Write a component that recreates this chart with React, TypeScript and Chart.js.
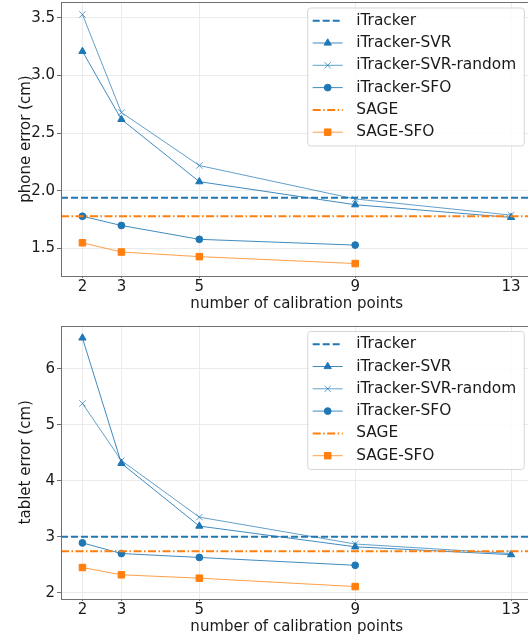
import React, { useEffect, useRef } from 'react';
import { Chart, registerables } from 'chart.js';
import { drawPoint } from 'chart.js/helpers';

Chart.register(...registerables);

// ---------- data ----------
const CAL_POINTS = [2, 3, 5, 9, 13];
const SFO_POINTS = [2, 3, 5, 9];
const X_MIN = 1.45;
const X_MAX = 13.55;

const PHONE_ITRACKER = 1.94;
const PHONE_SAGE = 1.78;
const PHONE_SVR = [3.21, 2.62, 2.08, 1.88, 1.77];
const PHONE_SVR_RANDOM = [3.53, 2.68, 2.22, 1.93, 1.79];
const PHONE_SFO = [1.78, 1.7, 1.58, 1.53];
const PHONE_SAGE_SFO = [1.55, 1.47, 1.43, 1.37];
const PHONE_Y_TICKS = [1.5, 2.0, 2.5, 3.0, 3.5];

const TABLET_ITRACKER = 3.0;
const TABLET_SAGE = 2.74;
const TABLET_SVR = [6.55, 4.31, 3.19, 2.82, 2.68];
const TABLET_SVR_RANDOM = [5.38, 4.36, 3.35, 2.87, 2.7];
const TABLET_SFO = [2.89, 2.7, 2.63, 2.49];
const TABLET_SAGE_SFO = [2.45, 2.32, 2.26, 2.11];
const TABLET_Y_TICKS = [2, 3, 4, 5, 6];

const LABELS = ['iTracker', 'iTracker-SVR', 'iTracker-SVR-random', 'iTracker-SFO', 'SAGE', 'SAGE-SFO'];

// ---------- style ----------
const BLUE = '#1f77b4';
const BLUE_THIN = 'rgba(31,119,180,0.85)';
const BLUE_LIGHT = 'rgba(31,119,180,0.7)';
const ORANGE = '#ff7f0e';
const ORANGE_THIN = 'rgba(255,127,14,0.75)';
const GRID = '#ebebeb';
const SPINE = '#707070';
const TEXT = '#1a1a1a';
const FONT = { family: '"DejaVu Sans", sans-serif', size: 15 };
const LEGEND_FONT_SIZE = 15.4;
const CANVAS_W = 545;
const AREA_RIGHT = 532.5;

Chart.defaults.font.family = FONT.family;

function yRange(values: number[]) {
  const lo = Math.min(...values);
  const hi = Math.max(...values);
  const m = (hi - lo) * 0.05;
  return [lo - m, hi + m];
}

function makeDatasets(itr: number, sage: number, svr: number[], svrR: number[], sfo: number[], sageSfo: number[]) {
  const hline = (v: number) => [{ x: X_MIN, y: v }, { x: X_MAX, y: v }];
  const pts = (xs: number[], ys: number[]) => xs.map((x, i) => ({ x, y: ys[i] }));
  const list: any[] = [
    { data: hline(itr), borderColor: BLUE, borderWidth: 2, borderDash: [7, 3], pointRadius: 0, pointStyle: false },
    { data: pts(CAL_POINTS, svr), borderColor: BLUE_THIN, borderWidth: 1, pointStyle: 'triangle', pointRadius: 4.2, pointBackgroundColor: BLUE, pointBorderColor: BLUE, pointBorderWidth: 1 },
    { data: pts(CAL_POINTS, svrR), borderColor: BLUE_LIGHT, borderWidth: 1, pointStyle: 'crossRot', pointRadius: 4.5, pointBackgroundColor: BLUE_LIGHT, pointBorderColor: BLUE_LIGHT, pointBorderWidth: 1 },
    { data: pts(SFO_POINTS, sfo), borderColor: BLUE_THIN, borderWidth: 1, pointStyle: 'circle', pointRadius: 3.4, pointBackgroundColor: BLUE, pointBorderColor: BLUE, pointBorderWidth: 1 },
    { data: hline(sage), borderColor: ORANGE, borderWidth: 2, borderDash: [8, 2.5, 1.5, 2.5], pointRadius: 0, pointStyle: false },
    { data: pts(SFO_POINTS, sageSfo), borderColor: ORANGE_THIN, borderWidth: 1, pointStyle: 'rect', pointRadius: 4.6, pointBackgroundColor: ORANGE, pointBorderColor: ORANGE, pointBorderWidth: 1 },
  ];
  return list.map((d, i) => ({
    ...d,
    label: LABELS[i],
    order: 5 - i,
    showLine: true,
    fill: false,
    tension: 0,
    backgroundColor: d.borderColor,
    pointHoverRadius: d.pointRadius,
  }));
}

const framePlugin = {
  id: 'frameAndLegend',
  afterDraw(chart: any) {
    const { ctx, chartArea: a } = chart;
    ctx.save();
    // spines
    ctx.strokeStyle = SPINE;
    ctx.lineWidth = 1;
    ctx.setLineDash([]);
    const l = Math.round(a.left) + 0.5;
    const t = Math.round(a.top) + 0.5;
    const r = Math.round(a.right) + 0.5;
    const b = Math.round(a.bottom) + 0.5;
    ctx.strokeRect(l, t, r - l, b - t);

    // legend
    const bx = a.right - 224.8;
    const by = a.top + 6;
    const bw = 216.6;
    const bh = 138;
    ctx.beginPath();
    const rad = 3;
    ctx.moveTo(bx + rad, by);
    ctx.lineTo(bx + bw - rad, by);
    ctx.quadraticCurveTo(bx + bw, by, bx + bw, by + rad);
    ctx.lineTo(bx + bw, by + bh - rad);
    ctx.quadraticCurveTo(bx + bw, by + bh, bx + bw - rad, by + bh);
    ctx.lineTo(bx + rad, by + bh);
    ctx.quadraticCurveTo(bx, by + bh, bx, by + bh - rad);
    ctx.lineTo(bx, by + rad);
    ctx.quadraticCurveTo(bx, by, bx + rad, by);
    ctx.closePath();
    ctx.fillStyle = 'rgba(255,255,255,0.85)';
    ctx.fill();
    ctx.strokeStyle = '#d6d6d6';
    ctx.stroke();

    chart.data.datasets.forEach((ds: any, i: number) => {
      const y = by + 12.7 + i * 22.3;
      ctx.setLineDash(ds.borderDash || []);
      ctx.strokeStyle = ds.borderColor;
      ctx.lineWidth = ds.borderWidth;
      ctx.beginPath();
      ctx.moveTo(bx + 5, y);
      ctx.lineTo(bx + 35, y);
      ctx.stroke();
      ctx.setLineDash([]);
      if (ds.pointStyle && ds.pointRadius > 0) {
        ctx.fillStyle = ds.pointBackgroundColor;
        ctx.strokeStyle = ds.pointBorderColor;
        ctx.lineWidth = ds.pointBorderWidth;
        drawPoint(ctx, { pointStyle: ds.pointStyle, radius: ds.pointRadius, borderWidth: ds.pointBorderWidth, rotation: 0 } as any, bx + 20, y);
      }
      ctx.fillStyle = TEXT;
      ctx.font = `${LEGEND_FONT_SIZE}px ${FONT.family}`;
      ctx.textBaseline = 'middle';
      ctx.textAlign = 'left';
      ctx.fillText(ds.label, bx + 48.5, y);
    });
    ctx.restore();
  },
};

function buildConfig(datasets: any[], yTicks: number[], range: number[], yTitle: string, areaTop: number, decimals: number): any {
  return {
    type: 'line',
    data: { datasets },
    plugins: [framePlugin],
    options: {
      responsive: false,
      animation: false,
      devicePixelRatio: 1,
      events: [],
      layout: { autoPadding: false, padding: { left: 0, right: CANVAS_W - AREA_RIGHT, top: areaTop, bottom: 0 } },
      plugins: { legend: { display: false }, tooltip: { enabled: false } },
      scales: {
        x: {
          type: 'linear',
          min: X_MIN,
          max: X_MAX,
          afterBuildTicks: (s: any) => { s.ticks = CAL_POINTS.map((v) => ({ value: v })); },
          afterFit: (s: any) => { s.height = 39; s.paddingLeft = 0; s.paddingRight = 0; },
          grid: { color: GRID, lineWidth: 1, drawTicks: true, tickLength: 2, tickColor: SPINE },
          border: { display: false },
          ticks: { font: FONT, color: TEXT, padding: 0.5, maxRotation: 0, autoSkip: false, callback: (v: any) => String(v) },
          title: { display: true, text: 'number of calibration points', font: FONT, color: TEXT, padding: { top: 0, bottom: 2 } },
        },
        y: {
          type: 'linear',
          min: range[0],
          max: range[1],
          afterBuildTicks: (s: any) => { s.ticks = yTicks.map((v) => ({ value: v })); },
          afterFit: (s: any) => { s.width = 61; s.paddingTop = 0; s.paddingBottom = 0; },
          grid: { color: GRID, lineWidth: 1, drawTicks: true, tickLength: 4, tickColor: SPINE },
          border: { display: false },
          ticks: { font: FONT, color: TEXT, padding: 2, callback: (v: any) => Number(v).toFixed(decimals) },
          title: { display: true, text: yTitle, font: FONT, color: TEXT, padding: { top: 17, bottom: 0 } },
        },
      },
    },
  };
}

function ChartCanvas({ config, top, height }: { config: () => any; top: number; height: number }) {
  const ref = useRef<HTMLCanvasElement | null>(null);
  useEffect(() => {
    if (!ref.current) return;
    const chart = new Chart(ref.current, config());
    return () => chart.destroy();
  }, []);
  return (
    <canvas
      ref={ref}
      width={CANVAS_W}
      height={height}
      style={{ position: 'absolute', left: 0, top, width: CANVAS_W, height, display: 'block' }}
    />
  );
}

export default function App() {
  const phoneConfig = () =>
    buildConfig(
      makeDatasets(PHONE_ITRACKER, PHONE_SAGE, PHONE_SVR, PHONE_SVR_RANDOM, PHONE_SFO, PHONE_SAGE_SFO),
      PHONE_Y_TICKS,
      yRange([PHONE_ITRACKER, PHONE_SAGE, ...PHONE_SVR, ...PHONE_SVR_RANDOM, ...PHONE_SFO, ...PHONE_SAGE_SFO]),
      'phone error (cm)',
      2,
      1
    );
  const tabletConfig = () =>
    buildConfig(
      makeDatasets(TABLET_ITRACKER, TABLET_SAGE, TABLET_SVR, TABLET_SVR_RANDOM, TABLET_SFO, TABLET_SAGE_SFO),
      TABLET_Y_TICKS,
      yRange([TABLET_ITRACKER, TABLET_SAGE, ...TABLET_SVR, ...TABLET_SVR_RANDOM, ...TABLET_SFO, ...TABLET_SAGE_SFO]),
      'tablet error (cm)',
      10.5,
      0
    );
  return (
    <div style={{ position: 'fixed', left: 0, top: 0, width: 528, height: 638, overflow: 'hidden', background: '#fff' }}>
      <ChartCanvas config={phoneConfig} top={0} height={315} />
      <ChartCanvas config={tabletConfig} top={315} height={323} />
    </div>
  );
}
